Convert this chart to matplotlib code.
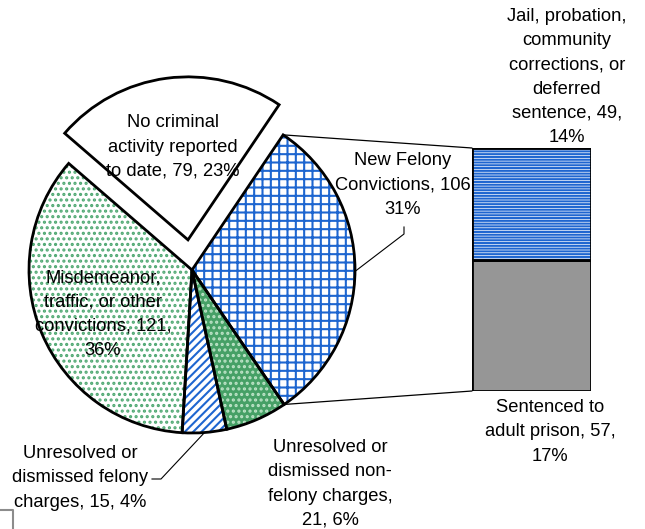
import numpy as np
import matplotlib
matplotlib.use("Agg")
import matplotlib.pyplot as plt
from matplotlib.patches import ConnectionPatch

plt.rcParams["font.family"] = ["Liberation Sans", "DejaVu Sans"]
plt.rcParams["hatch.linewidth"] = 1.5

# pie slices, clockwise starting with the slice that is split into the bar
pie_labels = [
    "New Felony\nConvictions, 106\n31%",
    "Unresolved or\ndismissed non-\nfelony charges,\n21, 6%",
    "Unresolved or\ndismissed felony\ncharges, 15, 4%",
    "Misdemeanor,\ntraffic, or other\nconvictions, 121,\n36%",
    "No criminal\nactivity reported\nto date, 79, 23%",
]
pie_values = [106, 21, 15, 121, 79]

# breakdown of the new felony convictions, bottom to top
bar_labels = [
    "Sentenced to\nadult prison, 57,\n17%",
    "Jail, probation,\ncommunity\ncorrections, or\ndeferred\nsentence, 49,\n14%",
]
bar_values = [57, 49]

W, H = 645, 529
CX, CY, R = 192, H - 270, 163
START = 56  # degrees, first slice edge
explode = [0, 0, 0, 0, 30.4]

blue = "#1E66D0"
pie_face = ["white", "#46A066", "white", "white", "white"]
pie_hatch = ["++", "...", "////", "...", ""]
pie_hatch_color = [blue, "#BDE3C7", blue, "#4FA872", "white"]

fig = plt.figure(figsize=(W / 100, H / 100), dpi=100)
ax = fig.add_axes([0, 0, 1, 1])
ax.set_xlim(0, W)
ax.set_ylim(0, H)
ax.set_aspect("equal")
ax.axis("off")

fills, _ = ax.pie(pie_values, center=(CX, CY), radius=R, startangle=START,
                  counterclock=False, explode=explode, frame=True,
                  wedgeprops=dict(linewidth=0))
for w, fc, hc, h in zip(fills, pie_face, pie_hatch_color, pie_hatch):
    w.set_facecolor(fc)
    w.set_edgecolor(hc)
    w.set_hatch(h)
ax.pie(pie_values, center=(CX, CY), radius=R, startangle=START,
       counterclock=False, explode=explode, frame=True,
       colors=["none"] * len(pie_values),
       wedgeprops=dict(linewidth=2, edgecolor="black"))
ax.set_xlim(0, W)
ax.set_ylim(0, H)
ax.axis("off")

# bar of the split slice
bax = fig.add_axes([472 / W, (H - 391) / H, 119 / W, 243 / H])
bax.bar(0, bar_values[0], width=1, color="#969696", edgecolor="black", linewidth=2)
bax.bar(0, bar_values[1], bottom=bar_values[0], width=1, color="white",
        edgecolor=blue, hatch="------", linewidth=0)
bax.bar(0, bar_values[1], bottom=bar_values[0], width=1, color="none",
        edgecolor="black", linewidth=2)
bax.set_xlim(-0.5, 0.5)
bax.set_ylim(0, sum(bar_values))
bax.axis("off")

# connector lines from the split slice to the bar
total = sum(pie_values)
a1 = np.deg2rad(START)
a2 = np.deg2rad(START - 360 * pie_values[0] / total)
for ang, yb in [(a1, sum(bar_values)), (a2, 0)]:
    p = (CX + R * np.cos(ang), CY + R * np.sin(ang))
    con = ConnectionPatch(xyA=p, coordsA=ax.transData, xyB=(-0.5, yb),
                          coordsB=bax.transData, color="black", linewidth=0.9)
    fig.add_artist(con)

fs = 13.2
ls = 1.55
txt = dict(fontsize=fs, ha="center", va="center", linespacing=ls, color="black")
ax.text(173, H - 147, pie_labels[4], **txt)
ax.text(403, H - 185, pie_labels[0], **txt)
ax.text(103, H - 314, pie_labels[3], **txt)
ax.text(80, H - 478, pie_labels[2], **txt)
ax.text(330, H - 484, pie_labels[1], **txt)
ax.text(567, H - 77, bar_labels[1], **txt)
ax.text(550, H - 432, bar_labels[0], **txt)

# leader lines
ang_nf = np.deg2rad(-0.5)
ax.plot([404, 404, CX + R * np.cos(ang_nf)], [H - 227, H - 234, CY + R * np.sin(ang_nf)],
        color="black", linewidth=0.8)
mid = START - 360 * (sum(pie_values[:2]) + pie_values[2] / 2) / total
ang_f = np.deg2rad(mid)
ax.plot([152, 161, CX + R * np.cos(ang_f)], [H - 479, H - 479, CY + R * np.sin(ang_f)],
        color="black", linewidth=0.8)

# stray frame corner at bottom left
ax.plot([0, 13, 13], [H - 510, H - 510, 0], color="#8c8c8c", linewidth=1.5)

fig.savefig("out.png", dpi=100)
